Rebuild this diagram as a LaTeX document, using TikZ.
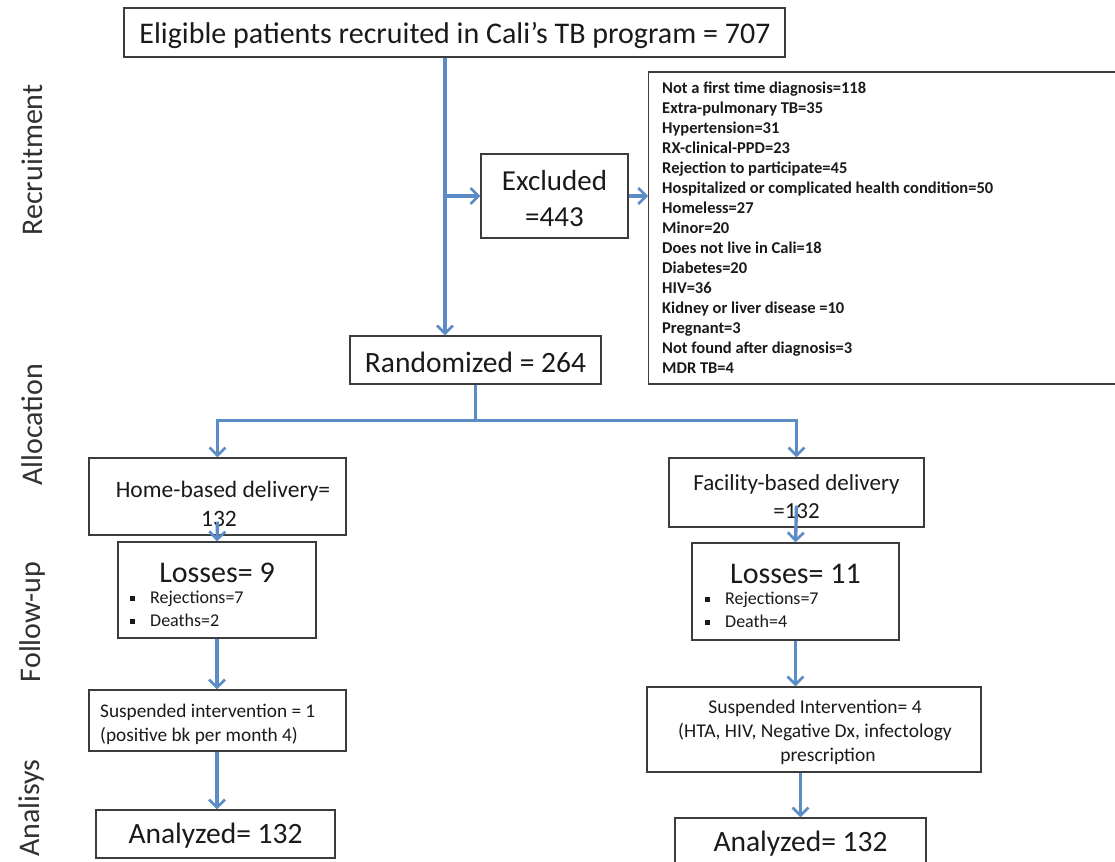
\documentclass[tikz,border=0pt]{standalone}
\usepackage{fontspec}
\setmainfont{Carlito}
\usetikzlibrary{arrows.meta,calc}
\definecolor{flow}{HTML}{5B8CC6}
\definecolor{ink}{HTML}{1A1A1A}
\tikzset{
  box/.style={draw=ink!85, line width=1.3pt, fill=white, inner sep=0pt},
  txt/.style={inner sep=0pt, align=center, text=ink},
  arr/.style={draw=flow, line width=3.4pt, -{Straight Barb[length=8pt,width=16pt,line width=2.6pt]}},
  plain/.style={draw=flow, line width=3.4pt},
  side/.style={rotate=90, font=\fontsize{30}{34}\selectfont, text=ink!90}
}
\newcommand{\sqb}{\raisebox{3pt}{\rule{5pt}{5pt}}\hspace{15pt}}
\begin{document}
\begin{tikzpicture}[x=1pt,y=-1pt]
\clip (0,0) rectangle (1115,861);
\fill[white] (0,0) rectangle (1115,861);
\coordinate (spine) at (445,0);
% side labels
\node[side] (lrec) at (32,160) {Recruitment};
\node[side] (lall) at (32,425) {Allocation};
\node[side] (lfol) at (33,622) {Follow-up};
\node[side] (lana) at (32,808) {Analisys};
% boxes
\node[box, minimum width=661pt, minimum height=49pt] (top) at (454.5,32.5) {};
\node[txt, font=\fontsize{30}{34}\selectfont] (topt) at (455,36) {Eligible patients recruited in Cali’s TB program = 707};
\node[box, minimum width=147pt, minimum height=84pt] (excl) at (554.5,196) {};
\node[txt, font=\fontsize{29}{36}\selectfont] (exclt) at (554.5,199) {Excluded\\=443};
\node[box, anchor=west, minimum width=520pt, minimum height=312pt] (list) at (648,228) {};
\node[txt, anchor=north west, align=left, font=\bfseries\fontsize{16.5}{20}\selectfont] (listt) at (662,82) {Not a first time diagnosis=118\\
Extra-pulmonary TB=35\\
Hypertension=31\\
RX-clinical-PPD=23\\
Rejection to participate=45\\
Hospitalized or complicated health condition=50\\
Homeless=27\\
Minor=20\\
Does not live in Cali=18\\
Diabetes=20\\
HIV=36\\
Kidney or liver disease =10\\
Pregnant=3\\
Not found after diagnosis=3\\
MDR TB=4};
\node[box, minimum width=251pt, minimum height=48pt] (rand) at (475.5,360) {};
\node[txt, font=\fontsize{29.5}{34}\selectfont] (randt) at (475.5,362) {Randomized = 264};
\node[box, minimum width=257pt, minimum height=77pt] (home) at (217.5,496.5) {};
\node[txt, font=\fontsize{23.5}{29}\selectfont] (homet) at (219,503.5) {\hspace*{8pt}Home-based delivery=\\132};
\node[box, minimum width=255pt, minimum height=69pt] (fac) at (796.5,492.5) {};
\node[txt, font=\fontsize{23}{28}\selectfont] (fact) at (796.5,496.5) {Facility-based delivery\\=132};
\node[box, minimum width=198pt, minimum height=96pt] (loss1) at (217,590) {};
\node[txt, font=\fontsize{30}{32}\selectfont] (loss1t) at (217,573) {Losses= 9};
\node[txt, anchor=north west, align=left, font=\fontsize{18}{23}\selectfont] (loss1b) at (130,591) {\sqb Rejections=7\\ \sqb Deaths=2};
\node[box, minimum width=207pt, minimum height=97pt] (loss2) at (795.5,591.5) {};
\node[txt, font=\fontsize{30}{32}\selectfont] (loss2t) at (795.5,574) {Losses= 11};
\node[txt, anchor=north west, align=left, font=\fontsize{18}{23}\selectfont] (loss2b) at (705,592) {\sqb Rejections=7\\ \sqb Death=4};
\node[box, minimum width=257pt, minimum height=61pt] (susp1) at (217.5,720.5) {};
\node[txt, anchor=west, align=left, font=\fontsize{19.3}{24}\selectfont] (susp1t) at (100,724.5) {Suspended intervention = 1\\(positive bk per month 4)};
\node[box, minimum width=334pt, minimum height=85pt] (susp2) at (814,729.5) {};
\node[txt, font=\fontsize{19.5}{24}\selectfont] (susp2t) at (815,732.5) {Suspended Intervention= 4\\(HTA, HIV, Negative Dx, infectology\\\hspace*{26pt}prescription};
\node[box, minimum width=239pt, minimum height=48pt] (an1) at (215.5,834) {};
\node[txt, font=\fontsize{29.5}{32}\selectfont] (an1t) at (215.5,836) {Analyzed= 132};
\node[box, minimum width=251pt, minimum height=58pt] (an2) at (800.5,847) {};
\node[txt, font=\fontsize{29.5}{32}\selectfont] (an2t) at (800.5,844) {Analyzed= 132};
% connectors
\draw[arr] (top.south -| spine) -- (rand.north -| spine);
\draw[arr] (excl.west -| spine) -- (excl.west);
\draw[arr] (excl.east) -- (list.west |- excl.east);
\draw[plain] (rand.south) -- ++(0,36) coordinate (split);
\draw[plain] ($(split -| home)+(-1.7,0)$) -- ($(split -| fac)+(1.7,0)$);
\draw[arr] (split -| home) -- (home.north);
\draw[arr] (split -| fac) -- (fac.north);
\draw[arr] ([yshift=14pt]home.south) -- (loss1.north);
\draw[arr] ([yshift=22pt]fac.south) -- (loss2.north);
\draw[arr] (loss1.south) -- (susp1.north -| loss1.south);
\draw[arr] (susp1.south -| loss1.south) -- (an1.north -| loss1.south);
\draw[arr] (loss2.south) -- (susp2.north -| loss2.south);
\draw[arr] (susp2.south -| an2.north) -- (an2.north);
\end{tikzpicture}
\end{document}
